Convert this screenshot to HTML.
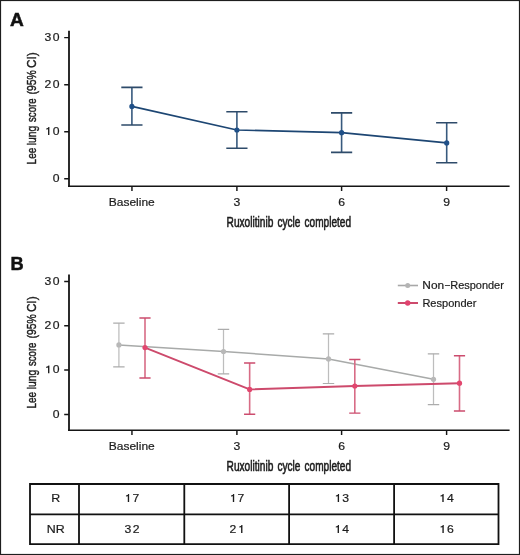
<!DOCTYPE html>
<html><head><meta charset="utf-8"><style>
html,body{margin:0;padding:0;background:#fff;}
svg{display:block;will-change:transform;}
text{font-family:"Liberation Sans", sans-serif;}
</style></head><body>
<svg width="520" height="555" viewBox="0 0 520 555">
<rect width="520" height="555" fill="#fff"/>
<rect x="0.5" y="0.5" width="519" height="554" fill="none" stroke="#1e1e1e" stroke-width="1.2"/>
<path d="M69.0 30.7 V187.0" stroke="#151515" stroke-width="1.8" fill="none"/>
<path d="M68.1 186.25 H509.6" stroke="#151515" stroke-width="1.5" fill="none"/>
<path d="M64.2 178.80 H69 M64.2 131.73 H69 M64.2 84.67 H69 M64.2 37.60 H69 M131.95 186.0 V190.9 M236.9 186.0 V190.9 M341.6 186.0 V190.9 M446.6 186.0 V190.9 " stroke="#151515" stroke-width="1.45" fill="none"/>
<text x="52.71" y="181.95" font-size="11.0" textLength="6.79" lengthAdjust="spacingAndGlyphs" fill="#1c1c1c" stroke="#1c1c1c" stroke-width="0.2">0</text>
<polygon points="49.39,134.88 49.39,127.08 48.51,127.08 47.81,127.88 46.21,128.53 46.21,129.58 48.03,129.13 48.03,134.88" fill="#1c1c1c"/><text x="52.71" y="134.88" font-size="11.0" textLength="6.79" lengthAdjust="spacingAndGlyphs" fill="#1c1c1c" stroke="#1c1c1c" stroke-width="0.2">0</text>
<text x="44.61" y="87.82" font-size="11.0" textLength="6.79" lengthAdjust="spacingAndGlyphs" fill="#1c1c1c" stroke="#1c1c1c" stroke-width="0.2">2</text><text x="52.71" y="87.82" font-size="11.0" textLength="6.79" lengthAdjust="spacingAndGlyphs" fill="#1c1c1c" stroke="#1c1c1c" stroke-width="0.2">0</text>
<text x="44.61" y="40.75" font-size="11.0" textLength="6.79" lengthAdjust="spacingAndGlyphs" fill="#1c1c1c" stroke="#1c1c1c" stroke-width="0.2">3</text><text x="52.71" y="40.75" font-size="11.0" textLength="6.79" lengthAdjust="spacingAndGlyphs" fill="#1c1c1c" stroke="#1c1c1c" stroke-width="0.2">0</text>
<text x="108.74" y="205.90" font-size="11.7" textLength="46.00" lengthAdjust="spacingAndGlyphs" fill="#1c1c1c" stroke="#1c1c1c" stroke-width="0.2">Baseline</text>
<text x="233.54" y="205.70" font-size="11.0" textLength="6.79" lengthAdjust="spacingAndGlyphs" fill="#1c1c1c" stroke="#1c1c1c" stroke-width="0.2">3</text>
<text x="338.18" y="205.70" font-size="11.0" textLength="6.79" lengthAdjust="spacingAndGlyphs" fill="#1c1c1c" stroke="#1c1c1c" stroke-width="0.2">6</text>
<text x="443.21" y="205.70" font-size="11.0" textLength="6.79" lengthAdjust="spacingAndGlyphs" fill="#1c1c1c" stroke="#1c1c1c" stroke-width="0.2">9</text>
<text x="226.59" y="226.55" font-size="14.4" textLength="46.75" lengthAdjust="spacingAndGlyphs" fill="#1c1c1c" stroke="#1c1c1c" stroke-width="0.6">Ruxolitinib</text>
<text x="277.44" y="226.55" font-size="14.4" textLength="23.04" lengthAdjust="spacingAndGlyphs" fill="#1c1c1c" stroke="#1c1c1c" stroke-width="0.6">cycle</text>
<text x="304.55" y="226.55" font-size="14.4" textLength="46.50" lengthAdjust="spacingAndGlyphs" fill="#1c1c1c" stroke="#1c1c1c" stroke-width="0.6">completed</text>
<text transform="translate(35.80,163.60) rotate(-90)" x="-0.79" y="0" font-size="13.3" textLength="16.58" lengthAdjust="spacingAndGlyphs" fill="#1c1c1c" stroke="#1c1c1c" stroke-width="0.45">Lee</text>
<text transform="translate(35.80,163.60) rotate(-90)" x="18.33" y="0" font-size="13.3" textLength="19.55" lengthAdjust="spacingAndGlyphs" fill="#1c1c1c" stroke="#1c1c1c" stroke-width="0.45">lung</text>
<text transform="translate(35.80,163.60) rotate(-90)" x="41.61" y="0" font-size="13.3" textLength="23.53" lengthAdjust="spacingAndGlyphs" fill="#1c1c1c" stroke="#1c1c1c" stroke-width="0.45">score</text>
<text transform="translate(35.80,163.60) rotate(-90)" x="69.18" y="0" font-size="13.3" textLength="24.28" lengthAdjust="spacingAndGlyphs" fill="#1c1c1c" stroke="#1c1c1c" stroke-width="0.45">(95%</text>
<text transform="translate(35.80,163.60) rotate(-90)" x="95.61" y="0" font-size="13.3" textLength="15.63" lengthAdjust="spacingAndGlyphs" fill="#1c1c1c" stroke="#1c1c1c" stroke-width="0.45">CI)</text>
<text x="10.02" y="25.50" font-size="18.4" textLength="13.80" lengthAdjust="spacingAndGlyphs" font-weight="bold" fill="#111" stroke="#111" stroke-width="0.5">A</text>
<path d="M69.0 274.5 V431.0" stroke="#151515" stroke-width="1.8" fill="none"/>
<path d="M68.1 430.25 H509.6" stroke="#151515" stroke-width="1.5" fill="none"/>
<path d="M64.2 414.40 H69 M64.2 370.07 H69 M64.2 325.73 H69 M64.2 281.40 H69 M131.95 430.0 V434.9 M236.9 430.0 V434.9 M341.6 430.0 V434.9 M446.6 430.0 V434.9 " stroke="#151515" stroke-width="1.45" fill="none"/>
<text x="52.71" y="417.55" font-size="11.0" textLength="6.79" lengthAdjust="spacingAndGlyphs" fill="#1c1c1c" stroke="#1c1c1c" stroke-width="0.2">0</text>
<polygon points="49.39,373.22 49.39,365.42 48.51,365.42 47.81,366.22 46.21,366.87 46.21,367.92 48.03,367.47 48.03,373.22" fill="#1c1c1c"/><text x="52.71" y="373.22" font-size="11.0" textLength="6.79" lengthAdjust="spacingAndGlyphs" fill="#1c1c1c" stroke="#1c1c1c" stroke-width="0.2">0</text>
<text x="44.61" y="328.88" font-size="11.0" textLength="6.79" lengthAdjust="spacingAndGlyphs" fill="#1c1c1c" stroke="#1c1c1c" stroke-width="0.2">2</text><text x="52.71" y="328.88" font-size="11.0" textLength="6.79" lengthAdjust="spacingAndGlyphs" fill="#1c1c1c" stroke="#1c1c1c" stroke-width="0.2">0</text>
<text x="44.61" y="284.55" font-size="11.0" textLength="6.79" lengthAdjust="spacingAndGlyphs" fill="#1c1c1c" stroke="#1c1c1c" stroke-width="0.2">3</text><text x="52.71" y="284.55" font-size="11.0" textLength="6.79" lengthAdjust="spacingAndGlyphs" fill="#1c1c1c" stroke="#1c1c1c" stroke-width="0.2">0</text>
<text x="108.74" y="450.00" font-size="11.7" textLength="46.00" lengthAdjust="spacingAndGlyphs" fill="#1c1c1c" stroke="#1c1c1c" stroke-width="0.2">Baseline</text>
<text x="233.54" y="449.80" font-size="11.0" textLength="6.79" lengthAdjust="spacingAndGlyphs" fill="#1c1c1c" stroke="#1c1c1c" stroke-width="0.2">3</text>
<text x="338.18" y="449.80" font-size="11.0" textLength="6.79" lengthAdjust="spacingAndGlyphs" fill="#1c1c1c" stroke="#1c1c1c" stroke-width="0.2">6</text>
<text x="443.21" y="449.80" font-size="11.0" textLength="6.79" lengthAdjust="spacingAndGlyphs" fill="#1c1c1c" stroke="#1c1c1c" stroke-width="0.2">9</text>
<text x="226.59" y="470.65" font-size="14.4" textLength="46.75" lengthAdjust="spacingAndGlyphs" fill="#1c1c1c" stroke="#1c1c1c" stroke-width="0.6">Ruxolitinib</text>
<text x="277.44" y="470.65" font-size="14.4" textLength="23.04" lengthAdjust="spacingAndGlyphs" fill="#1c1c1c" stroke="#1c1c1c" stroke-width="0.6">cycle</text>
<text x="304.55" y="470.65" font-size="14.4" textLength="46.50" lengthAdjust="spacingAndGlyphs" fill="#1c1c1c" stroke="#1c1c1c" stroke-width="0.6">completed</text>
<text transform="translate(35.80,407.70) rotate(-90)" x="-0.79" y="0" font-size="13.3" textLength="16.58" lengthAdjust="spacingAndGlyphs" fill="#1c1c1c" stroke="#1c1c1c" stroke-width="0.45">Lee</text>
<text transform="translate(35.80,407.70) rotate(-90)" x="18.33" y="0" font-size="13.3" textLength="19.55" lengthAdjust="spacingAndGlyphs" fill="#1c1c1c" stroke="#1c1c1c" stroke-width="0.45">lung</text>
<text transform="translate(35.80,407.70) rotate(-90)" x="41.61" y="0" font-size="13.3" textLength="23.53" lengthAdjust="spacingAndGlyphs" fill="#1c1c1c" stroke="#1c1c1c" stroke-width="0.45">score</text>
<text transform="translate(35.80,407.70) rotate(-90)" x="69.18" y="0" font-size="13.3" textLength="24.28" lengthAdjust="spacingAndGlyphs" fill="#1c1c1c" stroke="#1c1c1c" stroke-width="0.45">(95%</text>
<text transform="translate(35.80,407.70) rotate(-90)" x="95.61" y="0" font-size="13.3" textLength="15.63" lengthAdjust="spacingAndGlyphs" fill="#1c1c1c" stroke="#1c1c1c" stroke-width="0.45">CI)</text>
<text x="10.52" y="269.60" font-size="18.4" textLength="13.14" lengthAdjust="spacingAndGlyphs" font-weight="bold" fill="#111" stroke="#111" stroke-width="0.5">B</text>
<path d="M131.9 87.4 V125.0 M236.9 111.7 V148.3 M341.6 112.9 V152.4 M446.7 122.7 V162.8 " stroke="#385a7e" stroke-width="1.6" fill="none"/>
<path d="M121.30000000000001 87.4 H142.5 M121.30000000000001 125.0 H142.5 M226.3 111.7 H247.5 M226.3 148.3 H247.5 M331.0 112.9 H352.20000000000005 M331.0 152.4 H352.20000000000005 M436.09999999999997 122.7 H457.3 M436.09999999999997 162.8 H457.3 " stroke="#2e4b6a" stroke-width="1.6" fill="none"/>
<polyline points="131.9,106.4 236.9,130.0 341.6,132.7 446.7,142.9" stroke="#1d4673" stroke-width="1.7" fill="none" stroke-linejoin="round"/>
<circle cx="131.9" cy="106.4" r="2.6" fill="#1f5088"/>
<circle cx="236.9" cy="130.0" r="2.6" fill="#1f5088"/>
<circle cx="341.6" cy="132.7" r="2.6" fill="#1f5088"/>
<circle cx="446.7" cy="142.9" r="2.6" fill="#1f5088"/>
<path d="M118.9 323.2 V366.9 M223.5 329.4 V373.8 M328.5 333.8 V383.5 M433.5 353.8 V404.7 " stroke="#bdbdbd" stroke-width="1.25" fill="none"/>
<path d="M113.2 323.2 H124.60000000000001 M113.2 366.9 H124.60000000000001 M217.8 329.4 H229.2 M217.8 373.8 H229.2 M322.8 333.8 H334.2 M322.8 383.5 H334.2 M427.8 353.8 H439.2 M427.8 404.7 H439.2 " stroke="#acacac" stroke-width="1.2" fill="none"/>
<polyline points="118.9,344.9 223.5,351.5 328.5,358.9 433.5,379.3" stroke="#a8aaa9" stroke-width="1.5" fill="none" stroke-linejoin="round"/>
<circle cx="118.9" cy="344.9" r="2.6" fill="#b8b8b8"/>
<circle cx="223.5" cy="351.5" r="2.6" fill="#b8b8b8"/>
<circle cx="328.5" cy="358.9" r="2.6" fill="#b8b8b8"/>
<circle cx="433.5" cy="379.3" r="2.6" fill="#b8b8b8"/>
<path d="M145.0 318.0 V378.0 M249.65 363.0 V414.2 M354.8 359.5 V413.1 M459.5 355.8 V411.0 " stroke="#d86c86" stroke-width="1.6" fill="none"/>
<path d="M139.4 318.0 H150.6 M139.4 378.0 H150.6 M244.05 363.0 H255.25 M244.05 414.2 H255.25 M349.2 359.5 H360.40000000000003 M349.2 413.1 H360.40000000000003 M453.9 355.8 H465.1 M453.9 411.0 H465.1 " stroke="#cc4c6e" stroke-width="1.45" fill="none"/>
<polyline points="145.0,347.6 249.65,389.4 354.8,386.0 459.5,383.2" stroke="#cd4a6c" stroke-width="1.9" fill="none" stroke-linejoin="round"/>
<circle cx="145.0" cy="347.6" r="2.6" fill="#e2466e"/>
<circle cx="249.65" cy="389.4" r="2.6" fill="#e2466e"/>
<circle cx="354.8" cy="386.0" r="2.6" fill="#e2466e"/>
<circle cx="459.5" cy="383.2" r="2.6" fill="#e2466e"/>
<path d="M397.8 285.5 H418" stroke="#a8a8a8" stroke-width="1.6"/><circle cx="407.7" cy="285.5" r="2.5" fill="#b4b4b4"/>
<path d="M397.8 303 H418" stroke="#cd4a6c" stroke-width="2"/><circle cx="407.7" cy="303" r="2.7" fill="#e0426e"/>
<text x="422.35" y="288.80" font-size="11" textLength="21.82" lengthAdjust="spacingAndGlyphs" fill="#1c1c1c" stroke="#1c1c1c" stroke-width="0.2">Non</text>
<text x="444.39" y="288.80" font-size="11" textLength="5.90" lengthAdjust="spacingAndGlyphs" fill="#1c1c1c" stroke="#1c1c1c" stroke-width="0.2">−</text>
<text x="450.22" y="288.80" font-size="11" textLength="53.67" lengthAdjust="spacingAndGlyphs" fill="#1c1c1c" stroke="#1c1c1c" stroke-width="0.2">Responder</text>
<text x="422.42" y="306.80" font-size="11" textLength="53.97" lengthAdjust="spacingAndGlyphs" fill="#1c1c1c" stroke="#1c1c1c" stroke-width="0.2">Responder</text>
<path d="M30 483.1 V545.0 M79 483.1 V545.0 M184.3 483.1 V545.0 M289.1 483.1 V545.0 M394.1 483.1 V545.0 M498.5 483.1 V545.0 M29.1 484 H499.4 M29.1 514.3 H499.4 M29.1 544.1 H499.4 " stroke="#111" stroke-width="1.8" fill="none"/>
<text x="51.31" y="501.90" font-size="11.3" textLength="8.98" lengthAdjust="spacingAndGlyphs" fill="#1c1c1c" stroke="#1c1c1c" stroke-width="0.2">R</text>
<polygon points="129.14,501.90 129.14,494.10 128.26,494.10 127.56,494.90 125.96,495.55 125.96,496.60 127.78,496.15 127.78,501.90" fill="#1c1c1c"/><text x="132.46" y="501.90" font-size="11.0" textLength="6.79" lengthAdjust="spacingAndGlyphs" fill="#1c1c1c" stroke="#1c1c1c" stroke-width="0.2">7</text>
<polygon points="234.19,501.90 234.19,494.10 233.31,494.10 232.61,494.90 231.01,495.55 231.01,496.60 232.83,496.15 232.83,501.90" fill="#1c1c1c"/><text x="237.51" y="501.90" font-size="11.0" textLength="6.79" lengthAdjust="spacingAndGlyphs" fill="#1c1c1c" stroke="#1c1c1c" stroke-width="0.2">7</text>
<polygon points="339.06,501.90 339.06,494.10 338.18,494.10 337.48,494.90 335.88,495.55 335.88,496.60 337.70,496.15 337.70,501.90" fill="#1c1c1c"/><text x="342.38" y="501.90" font-size="11.0" textLength="6.79" lengthAdjust="spacingAndGlyphs" fill="#1c1c1c" stroke="#1c1c1c" stroke-width="0.2">3</text>
<polygon points="443.67,501.90 443.67,494.10 442.79,494.10 442.09,494.90 440.49,495.55 440.49,496.60 442.31,496.15 442.31,501.90" fill="#1c1c1c"/><text x="446.99" y="501.90" font-size="11.0" textLength="6.79" lengthAdjust="spacingAndGlyphs" fill="#1c1c1c" stroke="#1c1c1c" stroke-width="0.2">4</text>
<text x="46.83" y="532.90" font-size="11.3" textLength="17.95" lengthAdjust="spacingAndGlyphs" fill="#1c1c1c" stroke="#1c1c1c" stroke-width="0.2">NR</text>
<text x="124.57" y="532.90" font-size="11.0" textLength="6.79" lengthAdjust="spacingAndGlyphs" fill="#1c1c1c" stroke="#1c1c1c" stroke-width="0.2">3</text><text x="132.67" y="532.90" font-size="11.0" textLength="6.79" lengthAdjust="spacingAndGlyphs" fill="#1c1c1c" stroke="#1c1c1c" stroke-width="0.2">2</text>
<text x="229.56" y="532.90" font-size="11.0" textLength="6.79" lengthAdjust="spacingAndGlyphs" fill="#1c1c1c" stroke="#1c1c1c" stroke-width="0.2">2</text><polygon points="242.44,532.90 242.44,525.10 241.56,525.10 240.86,525.90 239.26,526.55 239.26,527.60 241.08,527.15 241.08,532.90" fill="#1c1c1c"/>
<polygon points="338.97,532.90 338.97,525.10 338.09,525.10 337.39,525.90 335.79,526.55 335.79,527.60 337.61,527.15 337.61,532.90" fill="#1c1c1c"/><text x="342.29" y="532.90" font-size="11.0" textLength="6.79" lengthAdjust="spacingAndGlyphs" fill="#1c1c1c" stroke="#1c1c1c" stroke-width="0.2">4</text>
<polygon points="443.76,532.90 443.76,525.10 442.88,525.10 442.18,525.90 440.58,526.55 440.58,527.60 442.40,527.15 442.40,532.90" fill="#1c1c1c"/><text x="447.08" y="532.90" font-size="11.0" textLength="6.79" lengthAdjust="spacingAndGlyphs" fill="#1c1c1c" stroke="#1c1c1c" stroke-width="0.2">6</text>
</svg>
</body></html>
